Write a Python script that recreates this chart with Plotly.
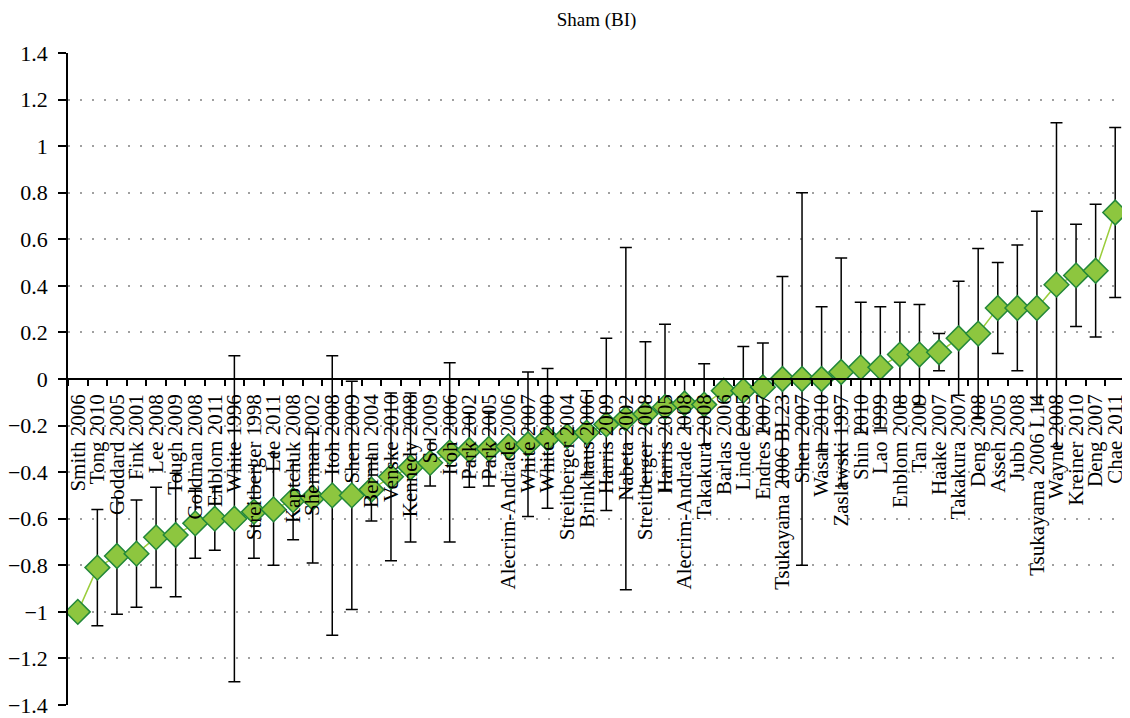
import plotly.graph_objects as go

studies = [
    "Smith 2006", "Tong 2010", "Goddard 2005", "Fink 2001", "Lee 2008", "Tough 2009",
    "Goldman 2008", "Enblom 2011", "White 1996", "Streitberger 1998", "Lee 2011",
    "Kaptchuk 2008", "Sherman 2002", "Itoh 2008", "Shen 2009", "Berman 2004",
    "Venske 2010", "Kennedy 2008", "So 2009", "Itoh 2006", "Park 2002", "Park 2005",
    "Alecrim-Andrade 2006", "White 2007", "White 2000", "Streitberger 2004",
    "Brinkhaus 2006", "Harris 2009", "Nabeta 2002", "Streitberger 2008", "Harris 2005",
    "Alecrim-Andrade 2008", "Takakura 2008", "Barlas 2006", "Linde 2005", "Endres 2007",
    "Tsukayama 2006 BL23", "Shen 2007", "Wasan 2010", "Zaslawski 1997", "Shin 2010",
    "Lao 1999", "Enblom 2008", "Tan 2009", "Haake 2007", "Takakura 2007", "Deng 2008",
    "Asseh 2005", "Jubb 2008", "Tsukayama 2006 L14", "Wayne 2008", "Kreiner 2010",
    "Deng 2007", "Chae 2011",
]

effect = [
    -1.00, -0.81, -0.76, -0.75, -0.68, -0.67,
    -0.62, -0.60, -0.60, -0.57, -0.56,
    -0.52, -0.51, -0.50, -0.50, -0.475,
    -0.42, -0.38, -0.36, -0.315, -0.305, -0.30,
    -0.29, -0.28, -0.255, -0.245,
    -0.23, -0.195, -0.17, -0.15, -0.12,
    -0.105, -0.11, -0.05, -0.05, -0.035,
    0.00, 0.00, 0.00, 0.03, 0.05,
    0.05, 0.105, 0.105, 0.115, 0.175, 0.195,
    0.305, 0.305, 0.305, 0.405, 0.445,
    0.465, 0.715,
]

ci_half = [
    0.0, 0.25, 0.25, 0.23, 0.215, 0.265,
    0.15, 0.135, 0.70, 0.20, 0.24,
    0.17, 0.28, 0.60, 0.49, 0.135,
    0.36, 0.32, 0.10, 0.385, 0.16, 0.16,
    0.0, 0.31, 0.30, 0.0,
    0.18, 0.37, 0.735, 0.31, 0.355,
    0.105, 0.175, 0.0, 0.19, 0.19,
    0.44, 0.80, 0.31, 0.49, 0.28,
    0.26, 0.225, 0.215, 0.08, 0.245, 0.365,
    0.195, 0.27, 0.415, 0.695, 0.22,
    0.285, 0.365,
]

y_ticks = [-1.4, -1.2, -1.0, -0.8, -0.6, -0.4, -0.2, 0, 0.2, 0.4, 0.6, 0.8, 1.0, 1.2, 1.4]

serif = "Liberation Serif"

# The HTML page has an 8px body margin, so the figure is drawn 8px smaller
# and the margins are reduced accordingly.
W, H = 1122, 710

fig = go.Figure()
fig.add_trace(go.Scatter(
    x=studies,
    y=effect,
    mode="lines+markers",
    line=dict(color="#9ACD3A", width=1.5),
    marker=dict(symbol="diamond", size=19, color="#8DC63F",
                line=dict(color="#23883A", width=1.5)),
    error_y=dict(type="data", array=ci_half, visible=True,
                 color="black", thickness=1.5, width=6),
    showlegend=False,
))

fig.update_layout(
    width=W, height=H,
    margin=dict(l=60, r=5, t=45, b=13, autoexpand=False),
    paper_bgcolor="white",
    plot_bgcolor="white",
    font=dict(family=serif, color="black"),
    title=dict(text="Sham (BI)", x=0.5, xref="paper", xanchor="center",
               y=1 - 11 / H, yref="container", yanchor="middle",
               font=dict(family=serif, size=19, color="black")),
    xaxis=dict(
        type="category",
        range=[-0.5, len(studies) - 0.5],
        tickmode="linear", tick0=0, dtick=1,
        anchor="free", position=0.5,
        showline=True, linecolor="black", linewidth=1.5,
        ticks="outside", tickson="boundaries", ticklen=6, tickwidth=1.5,
        tickcolor="black",
        tickangle=-90,
        ticklabelstandoff=6,
        tickfont=dict(family=serif, size=21, color="black"),
        showgrid=False, zeroline=False, automargin=False,
    ),
    yaxis=dict(
        range=[-1.4, 1.4],
        tickvals=y_ticks,
        showline=True, linecolor="black", linewidth=1.5,
        ticks="outside", ticklen=8, tickwidth=1.5, tickcolor="black",
        ticklabelstandoff=6,
        ticklabeloverflow="allow",
        tickfont=dict(family=serif, size=22, color="black"),
        showgrid=True, gridcolor="#A0A0A0", gridwidth=1.5, griddash="2px,10px",
        zeroline=False, automargin=False,
    ),
)

fig.write_html("out.html")
